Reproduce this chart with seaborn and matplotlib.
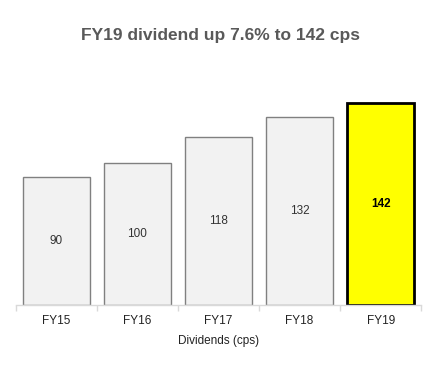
import matplotlib
matplotlib.use("Agg")
import matplotlib.pyplot as plt
import seaborn as sns
import numpy as np

years = ["FY15", "FY16", "FY17", "FY18", "FY19"]
dividends = [90, 100, 118, 132, 142]
fills = ["#f2f2f2", "#f2f2f2", "#f2f2f2", "#f2f2f2", "#ffff00"]
edges = ["#808080", "#808080", "#808080", "#808080", "#000000"]

sns.set_style("white")
plt.rcParams['font.family'] = ['Liberation Sans', 'DejaVu Sans']

fig = plt.figure(figsize=(4.41, 3.72), dpi=100)
ax = fig.add_axes([0.036, 0.18, 0.919, 0.605])

sns.barplot(x=years, y=dividends, hue=years, palette=fills, legend=False,
            width=0.83, saturation=1, ax=ax)

for i, p in enumerate(ax.patches):
    p.set_edgecolor(edges[i])
    p.set_linewidth(2.0 if i == len(years) - 1 else 1.0)
    bold = i == len(years) - 1
    ax.text(p.get_x() + p.get_width() / 2, p.get_height() / 2, str(dividends[i]),
            ha="center", va="center", fontsize=8.5,
            fontweight="bold" if bold else "normal",
            color="#000000" if bold else "#333333")

ax.set_xlim(-0.5, len(years) - 0.5)
ax.set_ylim(0, 158)
ax.set_yticks([])
for s in ["top", "right", "left"]:
    ax.spines[s].set_visible(False)
ax.spines["bottom"].set_color("#d9d9d9")
ax.spines["bottom"].set_linewidth(1.0)

ax.set_xticks(np.arange(len(years)))
ax.set_xticklabels(years, fontsize=8.5, color="#222222")
ax.tick_params(axis="x", which="major", bottom=True, length=0, pad=7)
ax.set_xticks(np.arange(-0.5, len(years)), minor=True)
ax.tick_params(axis="x", which="minor", bottom=True, length=4,
               color="#d9d9d9", width=1)

ax.set_xlabel("Dividends (cps)", fontsize=8.5, color="#222222", labelpad=6)
fig.suptitle("FY19 dividend up 7.6% to 142 cps", y=0.925, fontsize=12.5,
             fontweight="bold", color="#595959")

fig.savefig("out.png", dpi=100)
